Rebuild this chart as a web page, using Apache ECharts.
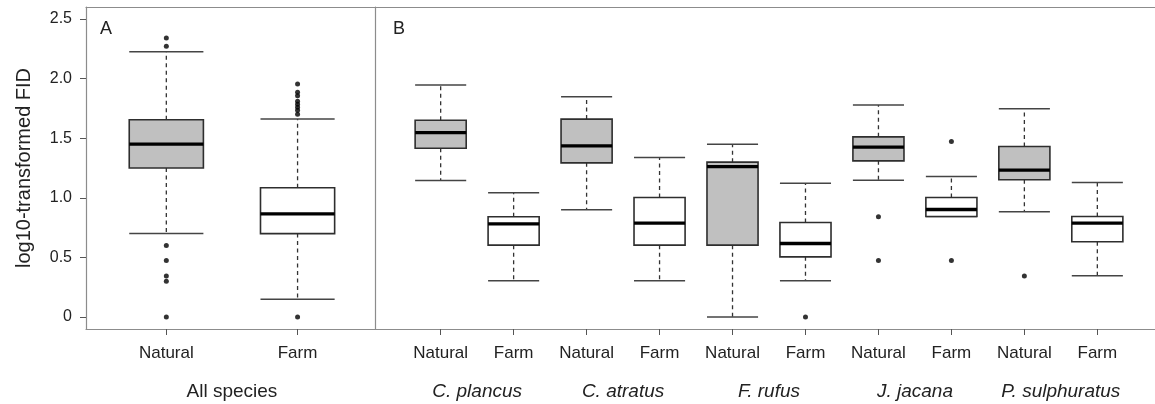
<!DOCTYPE html>
<html><head><meta charset="utf-8">
<script src="https://cdn.jsdelivr.net/npm/echarts@6/dist/echarts.min.js"></script>
<style>html,body{margin:0;padding:0;background:#fff}#c{width:1155px;height:404px}</style>
</head><body><div id="c"></div>
<script>
// ---- Data ----
const catsA = ['Natural', 'Farm'];
const groupA = ['All species'];
const catsB = ['Natural', 'Farm', 'Natural', 'Farm', 'Natural', 'Farm', 'Natural', 'Farm', 'Natural', 'Farm'];
const groupB = ['C. plancus', 'C. atratus', 'F. rufus', 'J. jacana', 'P. sulphuratus'];
const yTicks = [0, 0.5, 1.0, 1.5, 2.0, 2.5];
const yTickLabels = ['0', '0.5', '1.0', '1.5', '2.0', '2.5'];

// Panel A (all species): whisker low, Q1, median, Q3, whisker high
const allLow  = [0.70, 0.15];
const allQ1   = [1.25, 0.70];
const allMed  = [1.45, 0.865];
const allQ3   = [1.655, 1.085];
const allHigh = [2.225, 1.66];
const allOutliers = [
  [1, 2.34], [1, 2.27], [1, 0.60], [1, 0.475], [1, 0.345], [1, 0.30], [1, 0],
  [2, 1.955], [2, 1.885], [2, 1.855], [2, 1.81], [2, 1.785], [2, 1.76], [2, 1.735], [2, 1.70], [2, 0]
];

// Panel B (per species)
const spLow  = [1.145, 0.305, 0.90, 0.305, 0.0, 0.305, 1.148, 0.843, 0.883, 0.346];
const spQ1   = [1.416, 0.603, 1.293, 0.603, 0.603, 0.505, 1.31, 0.843, 1.151, 0.631];
const spMed  = [1.547, 0.782, 1.436, 0.788, 1.262, 0.617, 1.425, 0.902, 1.232, 0.788];
const spQ3   = [1.651, 0.841, 1.66, 1.003, 1.299, 0.793, 1.511, 1.003, 1.43, 0.843];
const spHigh = [1.947, 1.042, 1.847, 1.338, 1.45, 1.123, 1.779, 1.179, 1.746, 1.128];
const spOutliers = [
  [6, 0], [7, 0.841], [7, 0.474], [8, 1.472], [8, 0.474], [9, 0.344]
];

// ---- Build ----
const FONT = '"Liberation Sans", Arial, Helvetica, sans-serif';
const TXT = '#222';
const FRAME = '#8c8c8c';
const frameLine = { show: true, onZero: false, lineStyle: { color: FRAME, width: 1.2 } };

function boxData(low, q1, med, q3, high) {
  return low.map((v, i) => [i + 1, v, q1[i], med[i], q3[i], high[i]]);
}

function makeRender(cats, boxWidth) {
  return function (params, api) {
    const x = api.value(0);
    const lo = api.value(1), q1 = api.value(2), md = api.value(3), q3 = api.value(4), hi = api.value(5);
    const half = api.size([boxWidth, 0])[0] / 2;
    const pLo = api.coord([x, lo]), pQ1 = api.coord([x, q1]), pMd = api.coord([x, md]);
    const pQ3 = api.coord([x, q3]), pHi = api.coord([x, hi]);
    const cx = pMd[0];
    const fill = cats[x - 1] === 'Natural' ? '#c0c0c0' : '#ffffff';
    const dash = { stroke: '#333', lineWidth: 1.3, lineDash: [4, 3.5] };
    const solid = { stroke: '#444', lineWidth: 1.5 };
    return {
      type: 'group',
      children: [
        { type: 'line', shape: { x1: cx, y1: pQ3[1], x2: cx, y2: pHi[1] }, style: dash },
        { type: 'line', shape: { x1: cx, y1: pQ1[1], x2: cx, y2: pLo[1] }, style: dash },
        { type: 'line', shape: { x1: cx - half, y1: pHi[1], x2: cx + half, y2: pHi[1] }, style: solid },
        { type: 'line', shape: { x1: cx - half, y1: pLo[1], x2: cx + half, y2: pLo[1] }, style: solid },
        { type: 'rect', shape: { x: cx - half, y: pQ3[1], width: 2 * half, height: pQ1[1] - pQ3[1] },
          style: { fill: fill, stroke: '#2e2e2e', lineWidth: 1.6 } },
        { type: 'line', shape: { x1: cx - half, y1: pMd[1], x2: cx + half, y2: pMd[1] },
          style: { stroke: '#000', lineWidth: 3.3 } }
      ]
    };
  };
}

function catAxis(grid, min, max, cats) {
  const vals = cats.map((c, i) => i + 1);
  return {
    gridIndex: grid, type: 'value', min: min, max: max, position: 'bottom',
    axisLine: frameLine, splitLine: { show: false },
    axisTick: { show: true, inside: false, customValues: vals, length: 6, lineStyle: { color: '#555', width: 1 } },
    axisLabel: { customValues: vals, formatter: v => cats[Math.round(v) - 1], fontSize: 17,
      color: TXT, margin: 16, fontFamily: FONT }
  };
}
function groupAxis(grid, min, max, groups, italic) {
  const vals = groups.map((g, i) => 2 * i + 1.5);
  return {
    gridIndex: grid, type: 'value', min: min, max: max, position: 'bottom',
    axisLine: { show: false, onZero: false }, splitLine: { show: false }, axisTick: { show: false },
    axisLabel: { customValues: vals, formatter: v => groups[Math.round((v - 1.5) / 2)], fontSize: 19,
      color: TXT, margin: 53, fontFamily: FONT, fontStyle: italic ? 'italic' : 'normal' }
  };
}
function topAxis(grid, min, max) {
  return {
    gridIndex: grid, type: 'value', min: min, max: max, position: 'top',
    axisLine: frameLine, splitLine: { show: false }, axisTick: { show: false }, axisLabel: { show: false }
  };
}

const option = {
  animation: false,
  backgroundColor: '#fff',
  textStyle: { fontFamily: FONT },
  title: [
    { text: 'A', left: 100, top: 20, padding: 0, textStyle: { fontSize: 18, fontWeight: 'normal', color: TXT, fontFamily: FONT } },
    { text: 'B', left: 393, top: 20, padding: 0, textStyle: { fontSize: 18, fontWeight: 'normal', color: TXT, fontFamily: FONT } }
  ],
  grid: [
    { left: 86, top: 7, width: 289, height: 322, show: false, containLabel: false, outerBoundsMode: 'none' },
    { left: 375, top: 7, width: 788, height: 322, show: false, containLabel: false, outerBoundsMode: 'none' }
  ],
  xAxis: [
    catAxis(0, 0.388, 2.59, catsA),
    groupAxis(0, 0.388, 2.59, groupA, false),
    catAxis(1, 0.1, 10.9, catsB),
    groupAxis(1, 0.1, 10.9, groupB, true),
    topAxis(0, 0.388, 2.59),
    topAxis(1, 0.1, 10.9)
  ],
  yAxis: [
    { gridIndex: 0, type: 'value', min: -0.1, max: 2.6, position: 'left',
      axisLine: frameLine, splitLine: { show: false },
      axisTick: { show: true, inside: false, customValues: yTicks, length: 6, lineStyle: { color: '#555' } },
      axisLabel: { customValues: yTicks, formatter: v => yTickLabels[yTicks.indexOf(v)] ?? String(v),
        fontSize: 16, color: TXT, margin: 14, fontFamily: FONT },
      name: 'log10-transformed FID', nameLocation: 'middle', nameGap: 52,
      nameTextStyle: { fontSize: 20, color: TXT, fontFamily: FONT } },
    { gridIndex: 1, type: 'value', min: -0.1, max: 2.6, position: 'left',
      axisLine: frameLine, splitLine: { show: false }, axisTick: { show: false }, axisLabel: { show: false } }
  ],
  series: [
    { type: 'custom', xAxisIndex: 0, yAxisIndex: 0, renderItem: makeRender(catsA, 0.565),
      data: boxData(allLow, allQ1, allMed, allQ3, allHigh), encode: { x: 0, y: [1, 2, 3, 4, 5] }, clip: false },
    { type: 'scatter', xAxisIndex: 0, yAxisIndex: 0, data: allOutliers, symbolSize: 5,
      itemStyle: { color: '#000' }, z: 5 },
    { type: 'custom', xAxisIndex: 2, yAxisIndex: 1, renderItem: makeRender(catsB, 0.70),
      data: boxData(spLow, spQ1, spMed, spQ3, spHigh), encode: { x: 0, y: [1, 2, 3, 4, 5] }, clip: false },
    { type: 'scatter', xAxisIndex: 2, yAxisIndex: 1, data: spOutliers, symbolSize: 5,
      itemStyle: { color: '#000' }, z: 5 }
  ]
};

const chart = echarts.init(document.getElementById('c'), null, { renderer: 'canvas' });
chart.setOption(option);
</script></body></html>
